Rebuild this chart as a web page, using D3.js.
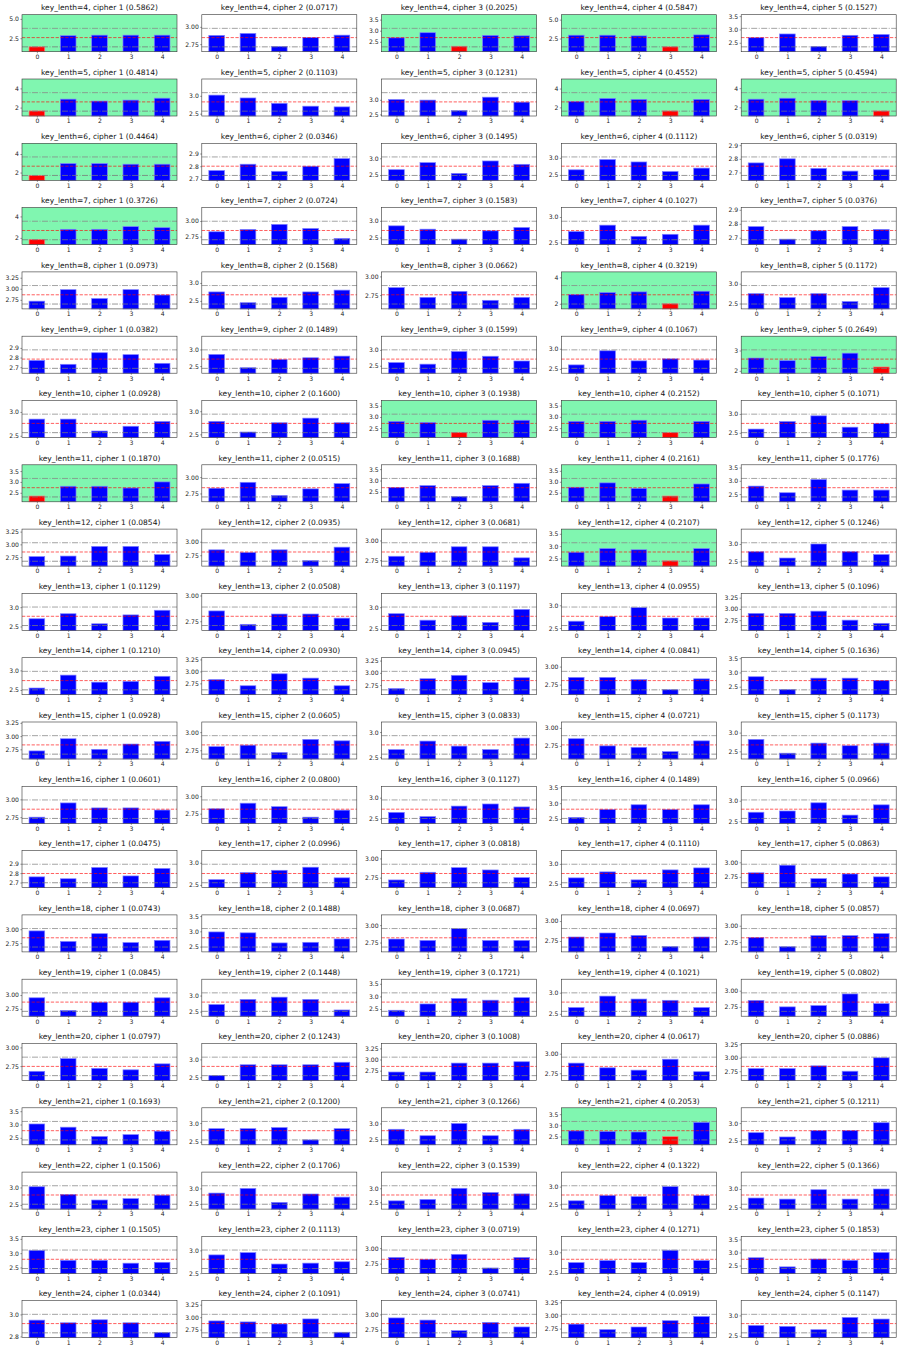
<!DOCTYPE html>
<html lang="en">
<head>
<meta charset="utf-8" />
<script src="https://d3js.org/d3.v7.min.js"></script>
<style>
  body { margin: 0; background: #fff; }
  svg text { font-family: "DejaVu Sans", sans-serif; }
</style>
</head>
<body>
<div id="chart"></div>
<script>
const keyLengths = [4, 5, 6, 7, 8, 9, 10, 11, 12, 13, 14, 15, 16, 17, 18, 19, 20, 21, 22, 23, 24];
const ciphers = [1, 2, 3, 4, 5];
const positions = [0, 1, 2, 3, 4];

// number shown in each title, one row per key length
const scores = [
  [0.5862, 0.0717, 0.2025, 0.5847, 0.1527],
  [0.4814, 0.1103, 0.1231, 0.4552, 0.4594],
  [0.4464, 0.0346, 0.1495, 0.1112, 0.0319],
  [0.3726, 0.0724, 0.1583, 0.1027, 0.0376],
  [0.0973, 0.1568, 0.0662, 0.3219, 0.1172],
  [0.0382, 0.1489, 0.1599, 0.1067, 0.2649],
  [0.0928, 0.1600, 0.1938, 0.2152, 0.1071],
  [0.1870, 0.0515, 0.1688, 0.2161, 0.1776],
  [0.0854, 0.0935, 0.0681, 0.2107, 0.1246],
  [0.1129, 0.0508, 0.1197, 0.0955, 0.1096],
  [0.1210, 0.0930, 0.0945, 0.0841, 0.1636],
  [0.0928, 0.0605, 0.0833, 0.0721, 0.1173],
  [0.0601, 0.0800, 0.1127, 0.1489, 0.0966],
  [0.0475, 0.0996, 0.0818, 0.1110, 0.0863],
  [0.0743, 0.1488, 0.0687, 0.0697, 0.0857],
  [0.0845, 0.1448, 0.1721, 0.1021, 0.0802],
  [0.0797, 0.1243, 0.1008, 0.0617, 0.0886],
  [0.1693, 0.1200, 0.1266, 0.2053, 0.1211],
  [0.1506, 0.1706, 0.1539, 0.1322, 0.1366],
  [0.1505, 0.1113, 0.0719, 0.1271, 0.1853],
  [0.0344, 0.1091, 0.0741, 0.0919, 0.1147]
];

// bar heights, values[keyLength row][cipher] = 5 positions
const values = [
  [[1.39, 2.83, 2.90, 2.90, 2.90], [2.876, 2.905, 2.716, 2.845, 2.88], [2.68, 2.91, 2.30, 2.79, 2.77], [2.94, 2.94, 2.85, 1.40, 2.98], [2.69, 2.83, 2.36, 2.78, 2.81]],
  [[1.65, 2.88, 2.68, 2.78, 2.98], [3.02, 2.94, 2.79, 2.71, 2.69], [3.01, 2.99, 2.63, 3.09, 2.92], [2.64, 2.95, 2.85, 1.62, 2.85], [2.85, 2.95, 2.71, 2.71, 1.62]],
  [[1.69, 2.97, 2.97, 2.90, 2.90], [2.766, 2.816, 2.76, 2.80, 2.86], [2.66, 2.87, 2.55, 2.92, 2.82], [2.65, 2.95, 2.88, 2.60, 2.70], [2.77, 2.80, 2.73, 2.71, 2.72]],
  [[1.85, 2.80, 2.80, 3.05, 2.95], [2.827, 2.865, 2.946, 2.88, 2.72], [2.85, 2.75, 2.45, 2.70, 2.80], [2.714, 2.84, 2.62, 2.66, 2.84], [2.78, 2.69, 2.75, 2.78, 2.76]],
  [[2.72, 2.98, 2.78, 2.98, 2.86], [2.75, 2.45, 2.60, 2.75, 2.80], [2.85, 2.72, 2.80, 2.68, 2.72], [2.70, 2.85, 2.90, 2.00, 2.95], [2.75, 2.65, 2.75, 2.55, 2.90]],
  [[2.77, 2.73, 2.85, 2.83, 2.74], [2.85, 2.45, 2.70, 2.75, 2.80], [2.60, 2.55, 2.95, 2.80, 2.65], [2.60, 2.95, 2.70, 2.75, 2.72], [2.63, 2.50, 2.70, 2.87, 2.19]],
  [[2.85, 2.85, 2.60, 2.70, 2.80], [2.78, 2.55, 2.75, 2.85, 2.75], [2.80, 2.75, 2.30, 2.85, 2.85], [2.80, 2.80, 2.85, 2.30, 2.80], [2.60, 2.80, 2.95, 2.65, 2.75]],
  [[2.35, 2.80, 2.80, 2.72, 3.00], [2.83, 2.92, 2.72, 2.82, 2.90], [2.70, 2.78, 2.30, 2.78, 2.88], [2.75, 2.95, 2.70, 2.35, 2.90], [2.80, 2.55, 3.05, 2.65, 2.65]],
  [[2.76, 2.77, 2.96, 2.96, 2.80], [2.85, 2.80, 2.85, 2.65, 2.90], [2.80, 2.85, 2.92, 2.92, 2.78], [2.75, 2.90, 2.85, 2.40, 2.90], [2.78, 2.60, 3.00, 2.78, 2.70]],
  [[2.70, 2.83, 2.57, 2.80, 2.92], [2.85, 2.72, 2.82, 2.82, 2.78], [2.85, 2.70, 2.80, 2.65, 2.95], [2.65, 2.75, 2.95, 2.72, 2.72], [2.90, 2.90, 2.95, 2.75, 2.68]],
  [[2.55, 2.88, 2.70, 2.72, 2.85], [2.83, 2.70, 2.95, 2.86, 2.70], [2.68, 2.88, 2.95, 2.80, 2.90], [2.85, 2.85, 2.82, 2.68, 2.83], [2.85, 2.40, 2.80, 2.80, 2.72]],
  [[2.72, 2.95, 2.75, 2.85, 2.90], [2.80, 2.82, 2.72, 2.90, 2.88], [2.65, 2.82, 2.72, 2.65, 2.88], [2.85, 2.75, 2.73, 2.67, 2.82], [2.82, 2.45, 2.72, 2.65, 2.72]],
  [[2.75, 2.95, 2.88, 2.88, 2.85], [2.82, 2.90, 2.85, 2.70, 2.80], [2.65, 2.55, 2.80, 2.85, 2.78], [2.55, 2.80, 2.95, 2.80, 2.95], [2.72, 2.75, 2.95, 2.65, 2.90]],
  [[2.76, 2.74, 2.86, 2.77, 2.85], [2.62, 2.78, 2.83, 2.90, 2.66], [2.72, 2.82, 2.88, 2.85, 2.75], [2.65, 2.80, 2.60, 2.85, 2.90], [2.82, 2.95, 2.72, 2.80, 2.75]],
  [[2.97, 2.78, 2.92, 2.76, 2.80], [2.98, 2.95, 2.62, 2.64, 2.75], [2.80, 2.78, 2.95, 2.78, 2.78], [2.80, 2.85, 2.82, 2.68, 2.80], [2.82, 2.68, 2.85, 2.85, 2.88]],
  [[2.95, 2.72, 2.87, 2.87, 2.95], [2.72, 2.88, 2.95, 2.88, 2.55], [2.45, 2.70, 2.92, 2.85, 2.95], [2.65, 2.92, 2.85, 2.82, 2.65], [2.85, 2.75, 2.77, 2.95, 2.80]],
  [[2.68, 2.85, 2.72, 2.70, 2.78], [2.55, 2.85, 2.85, 2.85, 2.92], [2.72, 2.72, 2.92, 2.92, 2.95], [2.88, 2.82, 2.79, 2.93, 2.77], [2.80, 2.80, 2.85, 2.75, 3.00]],
  [[3.02, 2.90, 2.55, 2.62, 2.75], [2.85, 2.85, 2.88, 2.55, 2.85], [2.82, 2.62, 3.00, 2.62, 2.82], [2.75, 2.72, 2.70, 2.49, 3.13], [2.73, 2.61, 2.79, 2.79, 3.01]],
  [[3.02, 2.80, 2.64, 2.68, 2.78], [2.85, 3.00, 2.55, 2.82, 2.72], [2.55, 2.60, 3.00, 2.85, 2.80], [2.60, 2.75, 2.72, 3.00, 2.75], [2.75, 2.72, 2.98, 2.72, 3.00]],
  [[3.10, 2.75, 2.75, 2.65, 2.68], [2.90, 2.95, 2.70, 2.72, 2.75], [2.85, 2.82, 2.90, 2.68, 2.85], [2.75, 2.80, 2.75, 3.05, 2.80], [2.80, 2.45, 2.75, 2.70, 3.00]],
  [[2.948, 2.924, 2.951, 2.924, 2.836], [2.924, 2.904, 2.864, 2.964, 2.696], [2.942, 2.907, 2.735, 2.87, 2.795], [2.835, 2.73, 2.78, 2.90, 2.98], [2.754, 2.73, 2.65, 2.95, 2.91]]
];

// y tick labels of each panel
const yTicks = [
  [["2.5", "5.0"], ["2.75", "3.00"], ["2.5", "3.0", "3.5"], ["2.5", "5.0"], ["2.5", "3.0", "3.5"]],
  [["2", "4"], ["2.5", "3.0"], ["2.5", "3.0"], ["2", "4"], ["2", "4"]],
  [["2", "4"], ["2.7", "2.8", "2.9"], ["2.5", "3.0"], ["2.5", "3.0"], ["2.7", "2.8", "2.9"]],
  [["2", "4"], ["2.75", "3.00"], ["2.5", "3.0"], ["2.5", "3.0"], ["2.7", "2.8", "2.9"]],
  [["2.75", "3.00", "3.25"], ["2.5", "3.0"], ["2.75", "3.00"], ["2", "4"], ["2.5", "3.0"]],
  [["2.7", "2.8", "2.9"], ["2.5", "3.0"], ["2.5", "3.0"], ["2.5", "3.0"], ["2", "3"]],
  [["2.5", "3.0"], ["2.5", "3.0"], ["2.5", "3.0", "3.5"], ["2.5", "3.0", "3.5"], ["2.5", "3.0"]],
  [["2.5", "3.0", "3.5"], ["2.75", "3.00"], ["2.5", "3.0", "3.5"], ["2.5", "3.0", "3.5"], ["2.5", "3.0", "3.5"]],
  [["2.75", "3.00", "3.25"], ["2.75", "3.00"], ["2.75", "3.00"], ["2.5", "3.0", "3.5"], ["2.5", "3.0"]],
  [["2.5", "3.0"], ["2.75", "3.00"], ["2.5", "3.0"], ["2.5", "3.0"], ["2.75", "3.00", "3.25"]],
  [["2.5", "3.0"], ["2.75", "3.00", "3.25"], ["2.75", "3.00", "3.25"], ["2.75", "3.00"], ["2.5", "3.0", "3.5"]],
  [["2.75", "3.00", "3.25"], ["2.75", "3.00"], ["2.5", "3.0"], ["2.75", "3.00"], ["2.5", "3.0"]],
  [["2.75", "3.00"], ["2.75", "3.00"], ["2.5", "3.0"], ["2.5", "3.0", "3.5"], ["2.5", "3.0"]],
  [["2.7", "2.8", "2.9"], ["2.5", "3.0"], ["2.75", "3.00"], ["2.5", "3.0"], ["2.75", "3.00"]],
  [["2.75", "3.00"], ["2.5", "3.0", "3.5"], ["2.75", "3.00"], ["2.75", "3.00"], ["2.75", "3.00"]],
  [["2.75", "3.00"], ["2.5", "3.0"], ["2.5", "3.0", "3.5"], ["2.5", "3.0"], ["2.75", "3.00"]],
  [["2.75", "3.00"], ["2.5", "3.0"], ["2.75", "3.00", "3.25"], ["2.75", "3.00"], ["2.75", "3.00", "3.25"]],
  [["2.5", "3.0", "3.5"], ["2.5", "3.0"], ["2.5", "3.0"], ["2.5", "3.0", "3.5"], ["2.5", "3.0"]],
  [["2.5", "3.0"], ["2.5", "3.0"], ["2.5", "3.0"], ["2.5", "3.0"], ["2.5", "3.0"]],
  [["2.5", "3.0", "3.5"], ["2.5", "3.0"], ["2.75", "3.00"], ["2.5", "3.0"], ["2.5", "3.0", "3.5"]],
  [["2.8", "3.0"], ["2.75", "3.00", "3.25"], ["2.75", "3.00"], ["2.75", "3.00", "3.25"], ["2.5", "3.0"]]
];

// flagged panels: [key length, cipher, position of the red bar]
const outliers = [
  [4, 1, 0], [4, 3, 2], [4, 4, 3],
  [5, 1, 0], [5, 4, 3], [5, 5, 4],
  [6, 1, 0], [7, 1, 0], [8, 4, 3], [9, 5, 4],
  [10, 3, 2], [10, 4, 3], [11, 1, 0], [11, 4, 3],
  [12, 4, 3], [21, 4, 3]
];

const width = 900, height = 1352;
const axLeft0 = 22, colStep = 179.8, axW = 155;
const axTop0 = 14.7, rowStep = 64.3, axH = 37;
const lowK = 3.05, highK = 4.95;

const svg = d3.select("#chart").append("svg")
  .attr("width", width).attr("height", height);

const x = d3.scaleLinear().domain([-0.475, 4.475]).range([0, axW]);
const barW = x(0.25) - x(-0.25);
const scoreFmt = d3.format(".4f");

keyLengths.forEach((k, r) => {
  ciphers.forEach((c, ci) => {
    const vals = values[r][ci];
    const m = d3.mean(vals);
    const s = Math.sqrt(d3.mean(vals, v => (v - m) ** 2));
    const y = d3.scaleLinear().domain([m - lowK * s, m + highK * s]).range([axH, 0]);
    const out = outliers.find(o => o[0] === k && o[1] === c);
    const [y0, y1] = y.domain();
    const ticks = yTicks[r][ci].filter(t => +t >= y0 - 1e-9 && +t <= y1 + 1e-9);

    const g = svg.append("g")
      .attr("transform", `translate(${axLeft0 + ci * colStep},${axTop0 + r * rowStep})`);

    if (out) {
      g.append("rect").attr("width", axW).attr("height", axH).attr("fill", "#80f6b0");
    }

    g.selectAll("rect.bar")
      .data(vals)
      .join("rect")
      .attr("class", "bar")
      .attr("x", (d, i) => x(positions[i]) - barW / 2)
      .attr("width", barW)
      .attr("y", d => Math.max(0, y(d)))
      .attr("height", d => axH - Math.max(0, y(d)))
      .attr("fill", (d, i) => (out && out[2] === i) ? "#ff0000" : "#0000ff")
      .attr("stroke", (d, i) => (out && out[2] === i) ? "#ff7a7a" : "#7f7fff")
      .attr("stroke-width", 0.7);

    // mean and +/- 2 std lines
    const hline = (v, color, dash, op) => g.append("line")
      .attr("x1", 0).attr("x2", axW)
      .attr("y1", y(v)).attr("y2", y(v))
      .attr("stroke", color).attr("stroke-width", 0.9)
      .attr("stroke-opacity", op)
      .attr("stroke-dasharray", dash);
    hline(m + 2 * s, "#888", "6,1.5,1,1.5", 0.85);
    hline(m - 2 * s, "#777", "6,1.5,1,1.5", 0.85);
    hline(m, "#ff0000", "3.3,1.5", 0.7);

    // frame
    g.append("rect").attr("width", axW).attr("height", axH)
      .attr("fill", "none").attr("stroke", "#333").attr("stroke-width", 0.6);

    const yAxis = g.append("g").call(
      d3.axisLeft(y).tickValues(ticks.map(Number)).tickFormat((d, i) => ticks[i])
        .tickSize(1.6).tickPadding(1.4));
    yAxis.select(".domain").remove();
    yAxis.selectAll("line").attr("stroke", "#333").attr("stroke-width", 0.5);
    yAxis.selectAll("text").attr("font-size", 6.1).attr("fill", "#222")
      .attr("font-family", "DejaVu Sans, sans-serif");

    const xAxis = g.append("g").attr("transform", `translate(0,${axH})`).call(
      d3.axisBottom(x).tickValues(positions).tickFormat(d3.format("d")).tickSize(1.6).tickPadding(1.4));
    xAxis.select(".domain").remove();
    xAxis.selectAll("line").attr("stroke", "#333").attr("stroke-width", 0.5);
    xAxis.selectAll("text").attr("font-size", 6.1).attr("fill", "#222")
      .attr("font-family", "DejaVu Sans, sans-serif");

    g.append("text")
      .attr("x", axW / 2).attr("y", -4.3)
      .attr("text-anchor", "middle")
      .attr("font-size", 7.5)
      .attr("fill", "#111")
      .text(`key_lenth=${k}, cipher ${c} (${scoreFmt(scores[r][ci])})`);
  });
});
</script>
</body>
</html>
